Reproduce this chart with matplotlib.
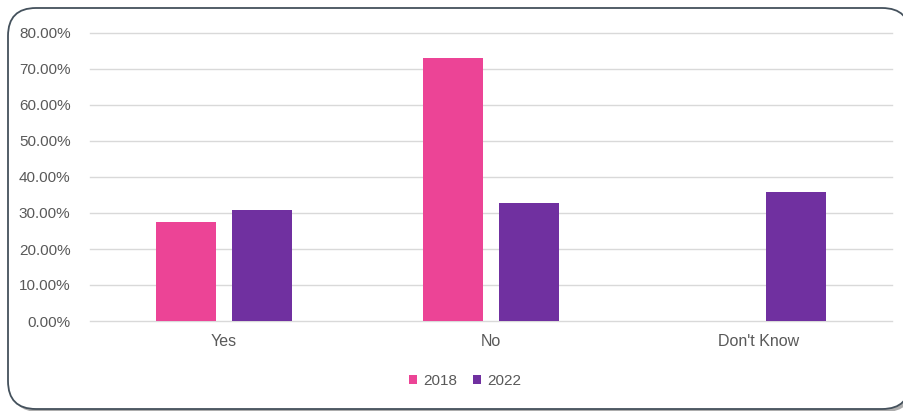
import numpy as np
import matplotlib.pyplot as plt
from matplotlib.patches import FancyBboxPatch
from matplotlib.ticker import PercentFormatter

categories = ['Yes', 'No', "Don't Know"]
series_names = ['2018', '2022']
values_2018 = [27.5, 73.0, 0.0]
values_2022 = [30.7, 32.9, 35.7]
y_ticks = [0, 10, 20, 30, 40, 50, 60, 70, 80]

pink = '#EC4496'
purple = '#7030A0'
text_col = '#595959'

plt.rcParams['font.family'] = ['Liberation Sans', 'DejaVu Sans']

W, H = 904, 411
fig = plt.figure(figsize=(W / 100, H / 100), dpi=100)

# rounded frame with a soft shadow, partly running off the image edge
r = 28 / W
shadow = FancyBboxPatch((11 / W, -1 / H), 902 / W, 400 / H,
                        boxstyle=f'round,pad=0,rounding_size={r}',
                        transform=fig.transFigure, facecolor='#8a8a8a',
                        edgecolor='none', alpha=0.7, mutation_aspect=W / H,
                        zorder=-2)
frame = FancyBboxPatch((8 / W, 2 / H), 902 / W, 401 / H,
                       boxstyle=f'round,pad=0,rounding_size={r}',
                       transform=fig.transFigure, facecolor='white',
                       edgecolor='#44515c', linewidth=1.3,
                       mutation_aspect=W / H, zorder=-1)
fig.patches.extend([shadow, frame])

ax = fig.add_axes([90 / W, 90 / H, 802 / W, 288 / H])
ax.patch.set_alpha(0)

x = np.arange(len(categories))
off = 0.142
width = 0.225
ax.bar(x - off, values_2018, width, color=pink, label=series_names[0], zorder=3)
ax.bar(x + off, values_2022, width, color=purple, label=series_names[1], zorder=3)

ax.set_xlim(-0.5, 2.5)
ax.set_ylim(0, 80)
ax.set_yticks(y_ticks)
ax.yaxis.set_major_formatter(PercentFormatter(decimals=2))
ax.set_xticks(x)
ax.set_xticklabels(categories)
ax.grid(axis='y', color='#D9D9D9', linewidth=1, zorder=0)
for gl in ax.get_ygridlines():
    gl.set_clip_on(False)
for s in ax.spines.values():
    s.set_visible(False)
ax.tick_params(axis='y', length=0, pad=14, labelsize=11, labelcolor=text_col)
ax.tick_params(axis='x', length=0, pad=9, labelsize=11.5, labelcolor=text_col)

leg = ax.legend(loc='center', bbox_to_anchor=(465 / W, 30 / H),
                bbox_transform=fig.transFigure, ncol=2, frameon=False,
                handlelength=0.55, handleheight=0.55, handletextpad=0.4,
                columnspacing=1.0, fontsize=11)
for t in leg.get_texts():
    t.set_color(text_col)

fig.savefig('out.png', dpi=100)
